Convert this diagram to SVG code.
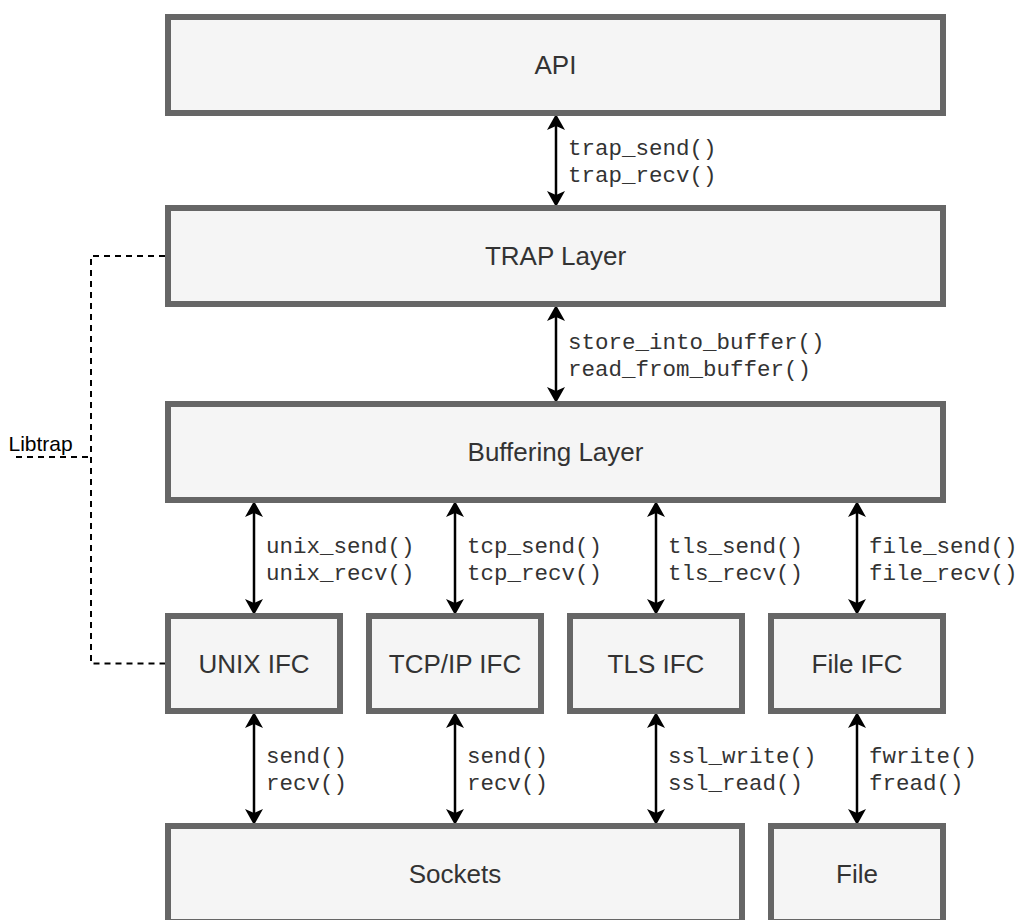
<svg xmlns="http://www.w3.org/2000/svg" width="1018" height="920" viewBox="0 0 1018 920">
  <style>
    .box { fill: #f5f5f5; stroke: #666666; stroke-width: 6; }
    .lbl { font-family: "Liberation Sans", Arial, Helvetica, sans-serif; font-size: 26px; fill: #333333; text-anchor: middle; }
    .fn { font-family: "Liberation Mono", "Courier New", monospace; font-size: 22.5px; fill: #333333; }
    .link { stroke: #000000; stroke-width: 2.5; fill: none; }
    .dash { stroke: #000000; stroke-width: 2; fill: none; stroke-dasharray: 6 5; }
    .note { font-family: "Liberation Sans", Arial, Helvetica, sans-serif; font-size: 21px; fill: #000000; }
  </style>
  <defs>
    <!-- classic notched arrowhead; reference point sits in the notch so the tip overshoots the line end -->
    <marker id="head" viewBox="0 0 16 18" refX="4" refY="9" markerWidth="16" markerHeight="18" markerUnits="userSpaceOnUse" orient="auto-start-reverse">
      <path d="M16,9 L0,0 L4,9 L0,18 Z" fill="#000000"/>
    </marker>
  </defs>

  <rect width="1018" height="920" fill="#ffffff"/>

  <!-- connectors -->
  <g id="connectors">
    <!-- Libtrap bracket -->
    <path class="dash" d="M165,256 H91 V663.5 H165"/>
    <path class="dash" d="M16,457 H91"/>
    <!-- bidirectional calls between layers -->
    <line class="link" x1="556" y1="126" x2="556" y2="195" marker-start="url(#head)" marker-end="url(#head)"/>
    <line class="link" x1="556" y1="317" x2="556" y2="391" marker-start="url(#head)" marker-end="url(#head)"/>
    <line class="link" x1="254" y1="513" x2="254" y2="603" marker-start="url(#head)" marker-end="url(#head)"/>
    <line class="link" x1="455" y1="513" x2="455" y2="603" marker-start="url(#head)" marker-end="url(#head)"/>
    <line class="link" x1="656" y1="513" x2="656" y2="603" marker-start="url(#head)" marker-end="url(#head)"/>
    <line class="link" x1="857" y1="513" x2="857" y2="603" marker-start="url(#head)" marker-end="url(#head)"/>
    <line class="link" x1="254" y1="724" x2="254" y2="813" marker-start="url(#head)" marker-end="url(#head)"/>
    <line class="link" x1="455" y1="724" x2="455" y2="813" marker-start="url(#head)" marker-end="url(#head)"/>
    <line class="link" x1="656" y1="724" x2="656" y2="813" marker-start="url(#head)" marker-end="url(#head)"/>
    <line class="link" x1="857" y1="724" x2="857" y2="813" marker-start="url(#head)" marker-end="url(#head)"/>

    <text class="note" x="8.5" y="451">Libtrap</text>

    <text class="fn" x="568" y="154.5">trap_send()</text>
    <text class="fn" x="568" y="181.5">trap_recv()</text>
    <text class="fn" x="568" y="348.5">store_into_buffer()</text>
    <text class="fn" x="568" y="375.5">read_from_buffer()</text>

    <text class="fn" x="266" y="552.5">unix_send()</text>
    <text class="fn" x="266" y="579.5">unix_recv()</text>
    <text class="fn" x="467" y="552.5">tcp_send()</text>
    <text class="fn" x="467" y="579.5">tcp_recv()</text>
    <text class="fn" x="668" y="552.5">tls_send()</text>
    <text class="fn" x="668" y="579.5">tls_recv()</text>
    <text class="fn" x="869" y="552.5">file_send()</text>
    <text class="fn" x="869" y="579.5">file_recv()</text>

    <text class="fn" x="266" y="763">send()</text>
    <text class="fn" x="266" y="790">recv()</text>
    <text class="fn" x="467" y="763">send()</text>
    <text class="fn" x="467" y="790">recv()</text>
    <text class="fn" x="668" y="763">ssl_write()</text>
    <text class="fn" x="668" y="790">ssl_read()</text>
    <text class="fn" x="869" y="763">fwrite()</text>
    <text class="fn" x="869" y="790">fread()</text>
  </g>

  <!-- layers -->
  <g id="api">
    <rect class="box" x="168" y="17" width="775" height="96"/>
    <text class="lbl" x="555.5" y="74">API</text>
  </g>
  <g id="trap-layer">
    <rect class="box" x="168" y="208" width="775" height="96"/>
    <text class="lbl" x="555.5" y="265">TRAP Layer</text>
  </g>
  <g id="buffering-layer">
    <rect class="box" x="168" y="404" width="775" height="96"/>
    <text class="lbl" x="555.5" y="461">Buffering Layer</text>
  </g>

  <!-- interfaces -->
  <g id="unix-ifc">
    <rect class="box" x="168" y="616" width="172" height="95"/>
    <text class="lbl" x="254" y="673">UNIX IFC</text>
  </g>
  <g id="tcp-ifc">
    <rect class="box" x="369" y="616" width="172" height="95"/>
    <text class="lbl" x="455" y="673">TCP/IP IFC</text>
  </g>
  <g id="tls-ifc">
    <rect class="box" x="570" y="616" width="172" height="95"/>
    <text class="lbl" x="656" y="673">TLS IFC</text>
  </g>
  <g id="file-ifc">
    <rect class="box" x="771" y="616" width="172" height="95"/>
    <text class="lbl" x="857" y="673">File IFC</text>
  </g>

  <!-- backends -->
  <g id="sockets">
    <rect class="box" x="168" y="826" width="574" height="96"/>
    <text class="lbl" x="455" y="883">Sockets</text>
  </g>
  <g id="file">
    <rect class="box" x="771" y="826" width="172" height="96"/>
    <text class="lbl" x="857" y="883">File</text>
  </g>
</svg>
